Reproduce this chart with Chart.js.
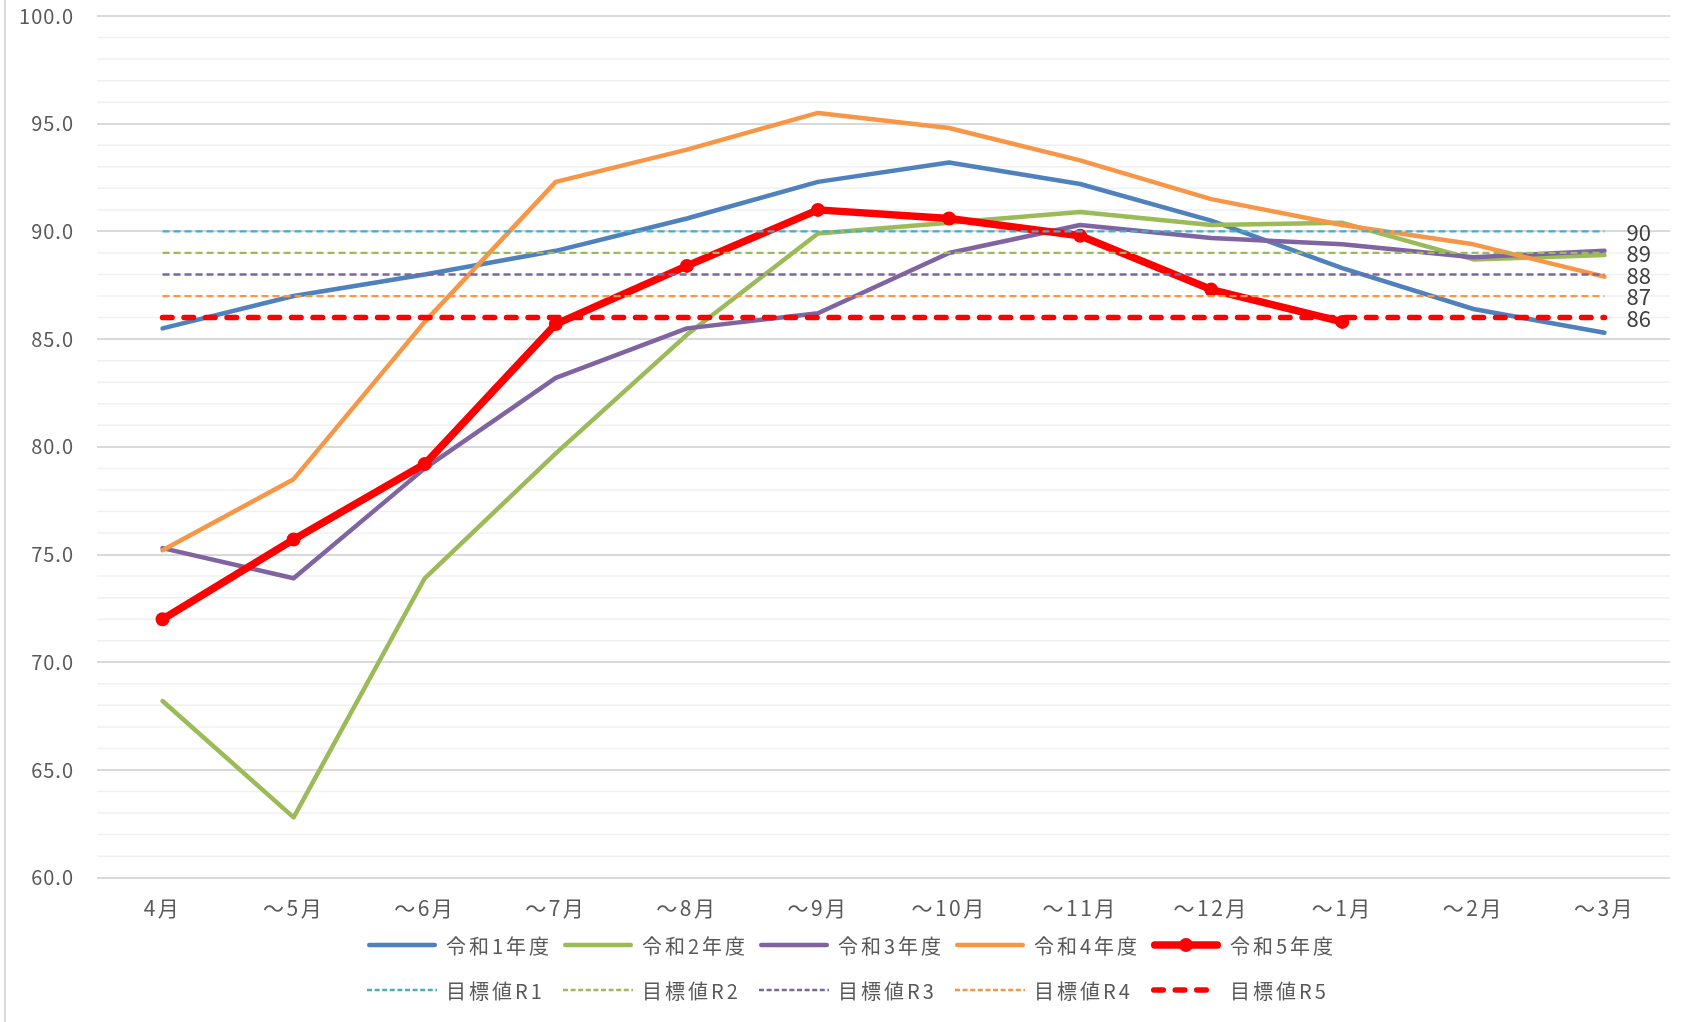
<!DOCTYPE html>
<html>
<head>
<meta charset="utf-8">
<script src="https://cdn.jsdelivr.net/npm/chart.js@4.4.1/dist/chart.umd.min.js"></script>
<style>
  html, body { margin: 0; padding: 0; background: #fff; }
  canvas { display: block; }
</style>
</head>
<body>
<canvas id="chart" width="1684" height="1022"></canvas>
<script>
// ===== data =====
const CATEGORIES = ['4月', '～5月', '～6月', '～7月', '～8月', '～9月', '～10月', '～11月', '～12月', '～1月', '～2月', '～3月'];

const R1 = [85.5, 87.0, 88.0, 89.1, 90.6, 92.3, 93.2, 92.2, 90.5, 88.3, 86.4, 85.3];
const R2 = [68.2, 62.8, 73.9, 79.7, 85.2, 89.9, 90.4, 90.9, 90.3, 90.4, 88.7, 88.9];
const R3 = [75.3, 73.9, 79.0, 83.2, 85.5, 86.2, 89.0, 90.3, 89.7, 89.4, 88.8, 89.1];
const R4 = [75.2, 78.5, 85.8, 92.3, 93.8, 95.5, 94.8, 93.3, 91.5, 90.3, 89.4, 87.9];
const R5 = [72.0, 75.7, 79.2, 85.7, 88.4, 91.0, 90.6, 89.8, 87.3, 85.8, null, null];

const TARGET_R1 = [90, 90, 90, 90, 90, 90, 90, 90, 90, 90, 90, 90];
const TARGET_R2 = [89, 89, 89, 89, 89, 89, 89, 89, 89, 89, 89, 89];
const TARGET_R3 = [88, 88, 88, 88, 88, 88, 88, 88, 88, 88, 88, 88];
const TARGET_R4 = [87, 87, 87, 87, 87, 87, 87, 87, 87, 87, 87, 87];
const TARGET_R5 = [86, 86, 86, 86, 86, 86, 86, 86, 86, 86, 86, 86];

const Y_MIN = 60, Y_MAX = 100, Y_STEP = 5, Y_MINOR = 1;

// ===== style =====
const FONT = '"Noto Sans CJK JP", "Noto Sans", sans-serif';
const TEXT = '#595959';
const COLORS = {
  blue: '#4f81bd', green: '#9bbb59', purple: '#8064a2',
  orange: '#f79646', red: '#ff0000', cyan: '#4bacc6'
};

const series = (label, data, color, width) => ({
  label, data, borderColor: color, backgroundColor: color,
  borderWidth: width, pointRadius: 0, fill: false, tension: 0,
  borderCapStyle: 'round', borderJoinStyle: 'round'
});
const target = (label, data, color, width, dash, legendDash) => ({
  label, data, borderColor: color, backgroundColor: color,
  borderWidth: width, borderDash: dash, pointRadius: 0, fill: false,
  borderCapStyle: width > 3 ? 'round' : 'butt', isTarget: true, legendDash
});

const datasets = [
  series('令和1年度', R1, COLORS.blue, 4.5),
  series('令和2年度', R2, COLORS.green, 4.5),
  series('令和3年度', R3, COLORS.purple, 4.5),
  series('令和4年度', R4, COLORS.orange, 4.5),
  Object.assign(series('令和5年度', R5, COLORS.red, 7.5), {
    pointRadius: 7, pointBackgroundColor: COLORS.red, pointBorderWidth: 0, marker: true
  }),
  target('目標値R1', TARGET_R1, COLORS.cyan, 2.3, [7, 4], [5, 2.6]),
  target('目標値R2', TARGET_R2, COLORS.green, 2.3, [7, 4], [5, 2.6]),
  target('目標値R3', TARGET_R3, COLORS.purple, 2.3, [7, 4], [5, 2.6]),
  target('目標値R4', TARGET_R4, COLORS.orange, 2.3, [7, 4], [5, 2.6]),
  target('目標値R5', TARGET_R5, COLORS.red, 5.5, [9.5, 12], [9.5, 12])
];
// later series drawn on top, like the spreadsheet
datasets.forEach((d, i) => { d.order = datasets.length - i; });

// letter spacing / shift per axis when drawing tick labels
function spaced(scale, px, dx) {
  if (scale._spaced) return;
  const orig = scale.drawLabels.bind(scale);
  scale.drawLabels = function (area) {
    this.ctx.save();
    this.ctx.letterSpacing = px;
    this.ctx.translate(dx, 0);
    orig(area);
    this.ctx.restore();
  };
  scale._spaced = true;
}

// ===== plugins =====
const frame = {
  id: 'frame',
  beforeDraw(chart) {
    const ctx = chart.ctx;
    ctx.save();
    ctx.fillStyle = '#fff';
    ctx.fillRect(0, 0, chart.width, chart.height);
    ctx.fillStyle = '#d9d9d9';
    ctx.fillRect(4, 0, 2, chart.height);
    ctx.restore();
  }
};

const minorGrid = {
  id: 'minorGrid',
  beforeDatasetsDraw(chart) {
    const { ctx, chartArea, scales: { y } } = chart;
    ctx.save();
    ctx.strokeStyle = '#f0f0f0';
    ctx.lineWidth = 1.5;
    for (let v = Y_MIN + Y_MINOR; v < Y_MAX; v += Y_MINOR) {
      if (v % Y_STEP === 0) continue;
      const py = y.getPixelForValue(v);
      ctx.beginPath();
      ctx.moveTo(chartArea.left, py);
      ctx.lineTo(chartArea.right, py);
      ctx.stroke();
    }
    ctx.restore();
  }
};

const endLabels = {
  id: 'endLabels',
  afterDatasetsDraw(chart) {
    const ctx = chart.ctx;
    ctx.save();
    ctx.font = '22px ' + FONT;
    ctx.fillStyle = '#404040';
    ctx.textAlign = 'left';
    ctx.textBaseline = 'middle';
    chart.data.datasets.forEach((ds, i) => {
      if (!ds.isTarget) return;
      const pts = chart.getDatasetMeta(i).data;
      const last = ds.data.length - 1;
      ctx.fillText(String(ds.data[last]), pts[last].x + 22, pts[last].y + 1);
    });
    ctx.restore();
  }
};

const legend = {
  id: 'customLegend',
  afterDraw(chart) {
    const ctx = chart.ctx;
    const x0 = 367, pitch = 196, sample = 70, rows = [945, 990];
    ctx.save();
    ctx.font = '20px ' + FONT;
    ctx.textBaseline = 'middle';
    ctx.textAlign = 'left';
    ctx.letterSpacing = '3px';
    chart.data.datasets.forEach((ds, i) => {
      const x = x0 + (i % 5) * pitch;
      const y = rows[Math.floor(i / 5)];
      const round = ds.isTarget ? ds.borderCapStyle === 'round' : true;
      ctx.strokeStyle = ds.borderColor;
      ctx.lineWidth = ds.borderWidth;
      ctx.lineCap = round ? 'round' : 'butt';
      ctx.setLineDash(ds.isTarget ? ds.legendDash : []);
      ctx.beginPath();
      ctx.moveTo(x + (round ? ds.borderWidth / 2 : 0), y);
      ctx.lineTo(x + sample - (round ? ds.borderWidth / 2 : 0), y);
      ctx.stroke();
      if (ds.marker) {
        ctx.fillStyle = ds.borderColor;
        ctx.beginPath();
        ctx.arc(x + sample / 2, y, ds.pointRadius, 0, Math.PI * 2);
        ctx.fill();
      }
      ctx.setLineDash([]);
      ctx.fillStyle = TEXT;
      ctx.fillText(ds.label, x + 79, y + 1);
    });
    ctx.restore();
  }
};

// ===== chart =====
new Chart(document.getElementById('chart'), {
  type: 'line',
  data: { labels: CATEGORIES, datasets },
  options: {
    responsive: false,
    animation: false,
    events: [],
    layout: { padding: { left: 0, right: 14, top: 16, bottom: 84.3 } },
    plugins: { legend: { display: false }, tooltip: { enabled: false } },
    scales: {
      x: {
        offset: true,
        grid: { display: false },
        border: { display: false },
        ticks: { color: TEXT, font: { family: FONT, size: 21 }, padding: 10, maxRotation: 0, autoSkip: false },
        afterFit(scale) { scale.height = 60; spaced(scale, '2.5px', 0); }
      },
      y: {
        min: Y_MIN, max: Y_MAX,
        grid: { color: '#d9d9d9', lineWidth: 2, drawTicks: false },
        border: { display: false },
        ticks: {
          stepSize: Y_STEP, color: TEXT, padding: 4,
          font: { family: FONT, size: 20 },
          callback: v => v.toFixed(1)
        },
        afterFit(scale) { scale.width = 97; spaced(scale, '1px', -19); }
      }
    }
  },
  plugins: [frame, minorGrid, endLabels, legend]
});
</script>
</body>
</html>
